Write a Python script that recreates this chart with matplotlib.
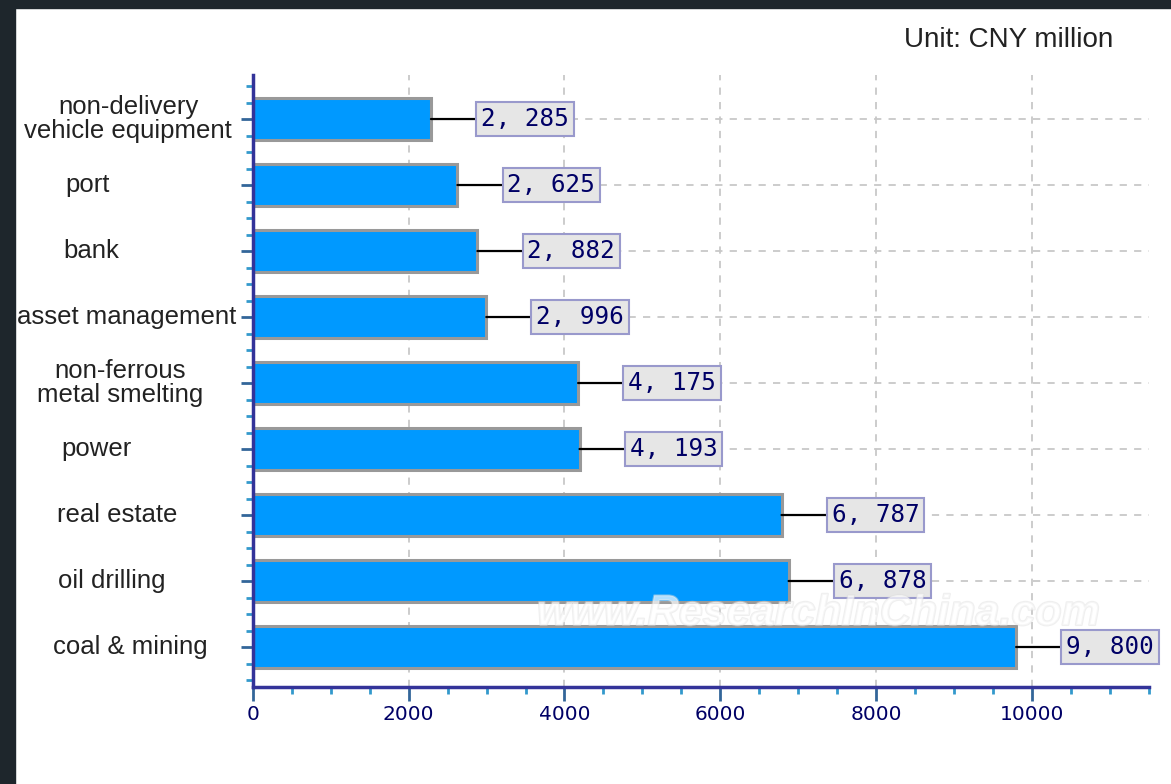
import matplotlib
matplotlib.use("Agg")
import matplotlib.pyplot as plt
import matplotlib.transforms as mtransforms
import matplotlib.patheffects as pe
from matplotlib.ticker import MultipleLocator

# data (bottom to top)
sectores = ["coal & mining", "oil drilling", "real estate", "power",
            "non-ferrous\nmetal smelting", "asset management", "bank",
            "port", "non-delivery\nvehicle equipment"]
valores = [9800, 6878, 6787, 4193, 4175, 2996, 2882, 2625, 2285]
xticks = [0, 2000, 4000, 6000, 8000, 10000]

# centro horizontal de cada etiqueta (px en la figura)
lab_x = [130, 112, 117, 96, 120, 127, 91, 88, 128]

W, H = 1171, 784
fig = plt.figure(figsize=(W/100, H/100), dpi=100)
fig.patch.set_facecolor("white")
ax = fig.add_axes([253/W, (H-687)/H, (1148.5-253)/W, (687-75)/H])

ys = list(range(len(sectores)))
ax.barh(ys, valores, height=0.65, color="#0099ff", edgecolor="#999999",
        linewidth=2.2, zorder=3)

ax.set_xlim(0, 11500)
ax.set_ylim(-0.606, 8.667)
ax.set_xticks(xticks)
ax.xaxis.set_minor_locator(MultipleLocator(500))
ax.set_yticks(ys)
ax.yaxis.set_minor_locator(MultipleLocator(0.25))
ax.set_yticklabels([])
ax.set_xticklabels([str(t) for t in xticks], color="#000066", fontsize=14.5,
                   family="DejaVu Sans")
ax.tick_params(axis="x", which="major", length=10, width=2, color="#336699", pad=3)
ax.tick_params(axis="x", which="minor", length=5, width=2, color="#3399cc")
ax.tick_params(axis="y", which="major", length=9, width=2, color="#336699")
ax.tick_params(axis="y", which="minor", length=5, width=2, color="#3399cc")

for s in ["top", "right"]:
    ax.spines[s].set_visible(False)
for s in ["left", "bottom"]:
    ax.spines[s].set_color("#333399")
    ax.spines[s].set_linewidth(2.5)
    ax.spines[s].set_zorder(5)

ax.grid(True, which="major", color="#c8c8c8", linestyle=(0, (4, 4)),
        linewidth=1.3, zorder=0)

# etiquetas de valor
for y, v in zip(ys, valores):
    txt = f"{v:,}".replace(",", ", ")
    ax.annotate(txt, xy=(v, y), xytext=(36, 0), textcoords="offset points",
                ha="left", va="center", fontsize=17.5, color="#000066",
                family="DejaVu Sans Mono", zorder=6,
                bbox=dict(boxstyle="square,pad=0.2", fc="#e6e6e6",
                          ec="#9999cc", lw=1.5),
                arrowprops=dict(arrowstyle="-", color="black", lw=1.6,
                                shrinkA=0, shrinkB=0))

# etiquetas de categoria
tr = mtransforms.blended_transform_factory(fig.transFigure, ax.transData)
for y, lab, lx in zip(ys, sectores, lab_x):
    fig.text(lx/W, y, lab, transform=tr, ha="center", va="center",
             fontsize=18.5, color="#222222", family="Liberation Sans",
             linespacing=0.95)

fig.text(1113/W, 1 - 40/H, "Unit: CNY million", ha="right", va="center",
         fontsize=20, color="#222222", family="Liberation Sans")

# marca de agua
fig.text(818/W, 1 - 614/H, "www.ResearchInChina.com", ha="center", va="center",
         fontsize=31, style="italic", weight="bold", color="white", alpha=0.45,
         family="Liberation Sans", zorder=4,
         path_effects=[pe.withStroke(linewidth=1.5, foreground="#dddddd")])

# borde oscuro
fig.patches.append(plt.Rectangle((0, 1 - 8/H), 1, 8/H, transform=fig.transFigure,
                                 color="#1e262c", zorder=20))
fig.patches.append(plt.Rectangle((0, 0), 15/W, 1, transform=fig.transFigure,
                                 color="#1e262c", zorder=20))

fig.savefig("out.png", dpi=100)
